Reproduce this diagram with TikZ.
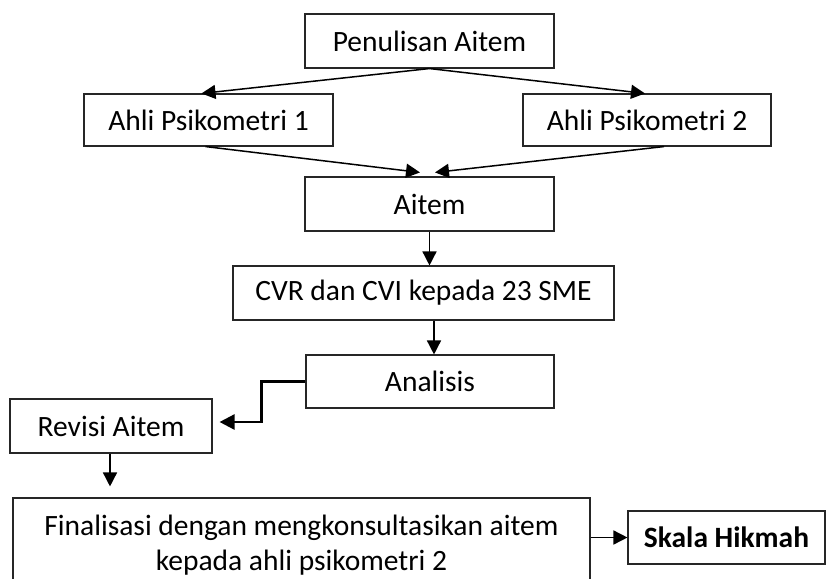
\documentclass[tikz,border=0pt]{standalone}
\usepackage{fontspec}
\setmainfont{Carlito}
\usepackage{tikz}
\usetikzlibrary{arrows.meta}
\usetikzlibrary{positioning,calc}

\begin{document}
\begin{tikzpicture}[
	x=1pt, y=-1pt,
	Boxes/.style={draw=black!85,line width=1.1pt,inner sep=0pt,minimum height=54pt,
		font=\fontsize{29.5pt}{35pt}\selectfont},
	Arrows/.style={line width=1.5pt,-{Triangle[length=14pt,width=14pt]}},
	ThickArrow/.style={line width=2.5pt,-{Triangle[length=15pt,width=15pt]}},
	every node/.style={scale=1}
	]
	\useasboundingbox (0,0) rectangle (826,578);
	\clip (0,0) rectangle (826,578);
	
	% boxes
	\node[Boxes, minimum width=249pt] (pen) at (429.5,41) {Penulisan Aitem};
	\node[Boxes, minimum width=249pt, minimum height=52pt] (ahli1) at (208.5,120) {Ahli Psikometri 1};
	\node[Boxes, minimum width=248pt, minimum height=52pt] (ahli2) at (647,120) {Ahli Psikometri 2};
	\node[Boxes, minimum width=249pt] (aitem) at (429.5,204) {Aitem};
	\node[Boxes, minimum width=381pt] (cvr) at (423.5,293) {CVR dan CVI kepada 23 SME};
	\node[Boxes, minimum width=248pt, minimum height=53pt] (analisis) at (430,381.5) {Analisis};
	\node[Boxes, minimum width=202pt] (revisi) at (111,426) {Revisi Aitem};
	\node[Boxes, minimum width=577pt, minimum height=95pt, align=center] (final) at (301.5,545.5)
		{Finalisasi dengan mengkonsultasikan aitem\\kepada ahli psikometri 2};
	\node[Boxes, minimum width=197pt, minimum height=53pt] (skala) at (726.5,537.5) {\bfseries Skala Hikmah};
	
	% connectors
	\draw[Arrows] (pen.south) -- ([xshift=-7pt]ahli1.north);
	\draw[Arrows] (pen.south) -- ([xshift=-2pt]ahli2.north);
	\draw[Arrows] ([xshift=-3pt]ahli1.south) -- ([xshift=-9.5pt,yshift=4pt]aitem.north);
	\draw[Arrows] ([xshift=17pt]ahli2.south) -- ([xshift=5.5pt,yshift=4pt]aitem.north);
	\draw[Arrows] (aitem.south) -- (aitem.south |- cvr.north);
	\draw[Arrows] ([xshift=10.5pt]cvr.south) coordinate (c1) -- (c1 |- analisis.north);
	\draw[ThickArrow, shorten >=7pt] (analisis.west) -- ++(-44,0) |- ([yshift=4pt]revisi.east);
	\draw[Arrows, shorten >=11pt] ([xshift=-1pt]revisi.south) coordinate (r1) -- (r1 |- final.north);
	\draw[Arrows] (skala.west -| final.east) -- (skala.west);
	
\end{tikzpicture}
\end{document}
